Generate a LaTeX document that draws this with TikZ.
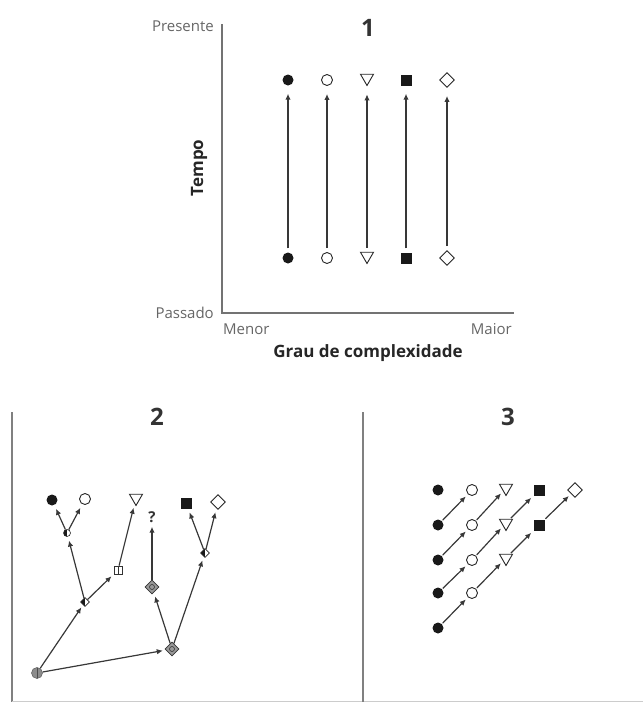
\documentclass[tikz,border=0pt]{standalone}
\usepackage{fontspec}
\setmainfont{Open Sans}
\usetikzlibrary{shapes.geometric,arrows.meta}
\begin{document}
\begin{tikzpicture}[x=1pt,y=-1pt,
  fc/.style={circle,fill=black!90,minimum size=11pt,inner sep=0pt},
  oc/.style={circle,draw=black!85,line width=0.9pt,fill=white,minimum size=11pt,inner sep=0pt},
  tri/.style={regular polygon,regular polygon sides=3,shape border rotate=180,draw=black!85,line width=0.9pt,minimum size=15pt,inner sep=0pt},
  fsq/.style={rectangle,fill=black!90,minimum size=11pt,inner sep=0pt},
  dia/.style={diamond,draw=black!85,line width=0.9pt,minimum size=15pt,inner sep=0pt},
  half/.style={circle,draw=black!85,line width=0.6pt,minimum size=7pt,inner sep=0pt,
     path picture={\fill[black!90] (path picture bounding box.south west) rectangle (path picture bounding box.north);}},
  halfd/.style={diamond,draw=black!85,line width=0.6pt,minimum size=9pt,inner sep=0pt,
     path picture={\fill[black!90] (path picture bounding box.south west) rectangle (path picture bounding box.north);}},
  osq/.style={rectangle,draw=black!80,line width=0.7pt,minimum size=8pt,inner sep=0pt,
     path picture={\draw[black!80,line width=0.6pt] (path picture bounding box.north) -- (path picture bounding box.south);}},
  gdia/.style={diamond,draw=black!80,fill=black!40,line width=0.7pt,minimum size=14pt,inner sep=0pt,
     path picture={\draw[black!80,line width=0.6pt] (path picture bounding box.center) circle (2.5pt);}},
  groot/.style={circle,draw=black!60,fill=black!45,line width=0.6pt,minimum size=11pt,inner sep=0pt,
     path picture={\draw[black!70,line width=0.6pt] (path picture bounding box.north) -- (path picture bounding box.south);}},
  arr/.style={-{Latex[length=6pt,width=5.5pt]},line width=1.2pt,draw=black!78},
  axis/.style={draw=black!55,line width=1.5pt},
  lab/.style={font=\fontsize{15}{17}\selectfont,text=black!60,inner sep=1pt},
  blab/.style={font=\fontsize{17}{19}\selectfont\bfseries,text=black!85,inner sep=1pt},
  num/.style={font=\fontsize{24}{26}\selectfont\bfseries,text=black!80,inner sep=1pt}
]
\useasboundingbox (0,0) rectangle (643,702);

% ---------- Panel 1 ----------
\coordinate (ytop) at (222,24);
\coordinate (orig) at (222,313);
\coordinate (xend) at (514,313);
\draw[axis] (ytop) -- (orig) -- (xend);
\node[lab,anchor=east] (pres) at (215,26) {Presente};
\node[lab,anchor=east] (pass) at (215,313) {Passado};
\node[lab,anchor=west] (menor) at (222,329) {Menor};
\node[lab,anchor=east] (maior) at (513,329) {Maior};
\node[blab] (grau) at (368,353) {Grau de complexidade};
\node[blab,rotate=90] (tempo) at (199,168) {Tempo};
\node[num] (n1) at (368,28) {1};

\node[fc]  (t1) at (288,80) {};
\node[oc]  (t2) at (327,80) {};
\node[tri] (t3) at (367,78) {};
\node[fsq] (t4) at (406,80) {};
\node[dia] (t5) at (447,80) {};
\node[fc]  (b1) at (288,258) {};
\node[oc]  (b2) at (327,258) {};
\node[tri] (b3) at (367,256) {};
\node[fsq] (b4) at (406,258) {};
\node[dia] (b5) at (447,258) {};
\foreach \i in {1,...,5}{
  \draw[arr,shorten <=4pt,shorten >=8pt] (b\i) -- (t\i);
}

% ---------- Panel 2 ----------
\draw[draw=black!50,line width=1.2pt] (12,412) -- (12,702);
\draw[draw=black!20,line width=0.8pt] (12,701) -- (643,701);
\node[num] (n2) at (157,417) {2};

\node[fc]  (p2a) at (52,500) {};
\node[oc]  (p2b) at (85,499) {};
\node[tri] (p2c) at (136,498) {};
\node[font=\fontsize{15}{17}\selectfont\bfseries,text=black!80,inner sep=0pt] (p2q) at (152,517) {?};
\node[fsq] (p2d) at (186,503) {};
\node[dia] (p2e) at (218,502) {};

\node[half]  (m1) at (67,533) {};
\node[halfd] (m2) at (85,602) {};
\node[osq]   (m3) at (118,570) {};
\node[gdia]  (m4) at (152,587) {};
\node[halfd] (m5) at (205,553) {};
\node[gdia]  (m6) at (172,649) {};
\node[groot] (r)  at (37,673) {};

\draw[arr,shorten >=3pt] (r) -- (m2);
\draw[arr,shorten >=3pt] (r) -- (m6);
\draw[arr,shorten >=4pt] (m2) -- (m1);
\draw[arr,shorten >=3pt] (m2) -- (m3);
\draw[arr,shorten >=4pt] (m3) -- (p2c);
\draw[arr,shorten >=4pt] (m1) -- (p2a);
\draw[arr,shorten >=4pt] (m1) -- (p2b);
\draw[arr,shorten >=4pt] (m6) -- (m4);
\draw[arr,shorten >=4pt] (m6) -- (m5);
\draw[arr,shorten >=4pt] (m4) -- (p2q);
\draw[arr,shorten >=4pt] (m5) -- (p2d);
\draw[arr,shorten >=4pt] (m5) -- (p2e);

% ---------- Panel 3 ----------
\draw[draw=black!50,line width=1.2pt] (363,412) -- (363,702);
\node[num] (n3) at (508,417) {3};

% row 0
\node[fc]  (q00) at (438,490) {};
\node[oc]  (q01) at (472,490) {};
\node[tri] (q02) at (506,488) {};
\node[fsq] (q03) at (539,490) {};
\node[dia] (q04) at (575,490) {};
% row 1
\node[fc]  (q10) at (438,525) {};
\node[oc]  (q11) at (472,525) {};
\node[tri] (q12) at (506,523) {};
\node[fsq] (q13) at (539,525) {};
% row 2
\node[fc]  (q20) at (438,560) {};
\node[oc]  (q21) at (472,560) {};
\node[tri] (q22) at (506,558) {};
% row 3
\node[fc]  (q30) at (438,593) {};
\node[oc]  (q31) at (472,593) {};
% row 4
\node[fc]  (q40) at (438,628) {};

\draw[arr,shorten <=1pt,shorten >=3pt] (q10) -- (q01);
\draw[arr,shorten <=1pt,shorten >=3pt] (q11) -- (q02);
\draw[arr,shorten <=1pt,shorten >=3pt] (q12) -- (q03);
\draw[arr,shorten <=1pt,shorten >=3pt] (q13) -- (q04);
\draw[arr,shorten <=1pt,shorten >=3pt] (q20) -- (q11);
\draw[arr,shorten <=1pt,shorten >=3pt] (q21) -- (q12);
\draw[arr,shorten <=1pt,shorten >=3pt] (q22) -- (q13);
\draw[arr,shorten <=1pt,shorten >=3pt] (q30) -- (q21);
\draw[arr,shorten <=1pt,shorten >=3pt] (q31) -- (q22);
\draw[arr,shorten <=1pt,shorten >=3pt] (q40) -- (q31);
\end{tikzpicture}
\end{document}
